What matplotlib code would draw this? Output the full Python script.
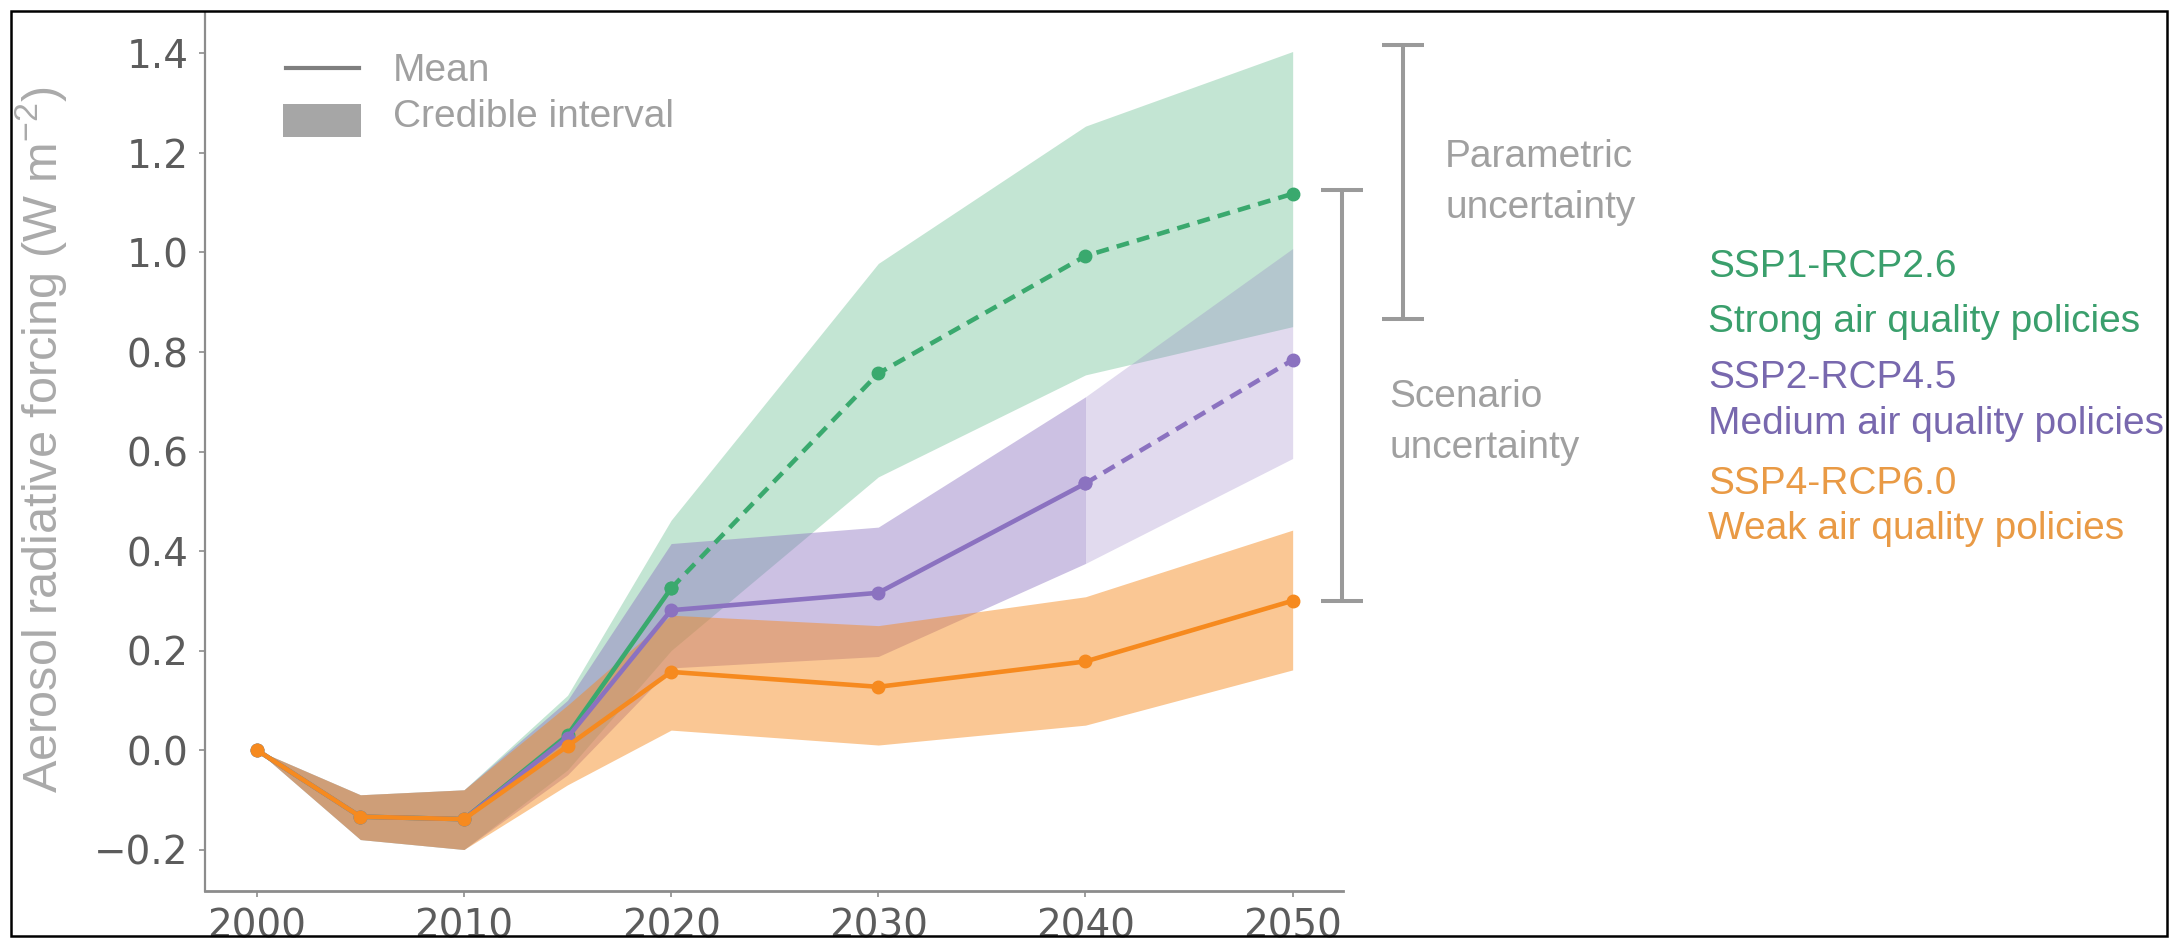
import matplotlib
matplotlib.use("Agg")
import matplotlib.pyplot as plt
from matplotlib.patches import Rectangle
from matplotlib.lines import Line2D

# --- data -----------------------------------------------------------------
years = [2000, 2005, 2010, 2015, 2020, 2030, 2040, 2050]

ssp1_mean = [0.0, -0.134, -0.139, 0.030, 0.325, 0.757, 0.993, 1.118]
ssp1_low  = [0.0, -0.180, -0.200, -0.040, 0.200, 0.549, 0.754, 0.851]
ssp1_high = [0.0, -0.090, -0.080, 0.110, 0.462, 0.978, 1.254, 1.404]

ssp2_mean = [0.0, -0.134, -0.139, 0.025, 0.281, 0.316, 0.536, 0.784]
ssp2_low  = [0.0, -0.180, -0.200, -0.050, 0.165, 0.188, 0.375, 0.586]
ssp2_high = [0.0, -0.090, -0.080, 0.100, 0.415, 0.448, 0.710, 1.008]

ssp4_mean = [0.0, -0.134, -0.139, 0.008, 0.157, 0.127, 0.178, 0.300]
ssp4_low  = [0.0, -0.180, -0.200, -0.070, 0.040, 0.010, 0.050, 0.161]
ssp4_high = [0.0, -0.090, -0.080, 0.090, 0.271, 0.250, 0.308, 0.442]

ytick_values = [-0.2, 0.0, 0.2, 0.4, 0.6, 0.8, 1.0, 1.2, 1.4]
ytick_labels = ["\u22120.2", "0.0", "0.2", "0.4", "0.6", "0.8", "1.0", "1.2", "1.4"]
xtick_values = [2000, 2010, 2020, 2030, 2040, 2050]

parametric_range = [0.866, 1.417]
scenario_range = [0.300, 1.126]

scenario_names = ["SSP1-RCP2.6", "SSP2-RCP4.5", "SSP4-RCP6.0"]
scenario_policies = ["Strong air quality policies",
                     "Medium air quality policies",
                     "Weak air quality policies"]

# --- style ----------------------------------------------------------------
plt.rcParams["mathtext.fontset"] = "custom"
plt.rcParams["mathtext.rm"] = "Liberation Sans"
plt.rcParams["mathtext.it"] = "Liberation Sans:italic"

GREEN = "#3aa96e"
PURPLE = "#8b72c0"
ORANGE = "#f68a1f"
GREEN_TXT = "#3a9f6c"
PURPLE_TXT = "#7868ae"
ORANGE_TXT = "#e99a45"
GRAY_TXT = "#a0a0a0"
SANS = ["Liberation Sans", "DejaVu Sans"]

W, H = 2172, 939
fig = plt.figure(figsize=(W / 100, H / 100), dpi=100)


def fx(px):
    return px / W


def fy(py):
    return 1 - py / H


ax = fig.add_axes([fx(205), fy(891), fx(1343) - fx(205), fy(13) - fy(891)])
ax.set_xlim(1997.5, 2052.43)
ax.set_ylim(-0.2834, 1.4814)

# credible-interval bands
ax.fill_between(years, ssp1_low, ssp1_high, color=GREEN, alpha=0.30, lw=0, zorder=1)
ax.fill_between(years[:7], ssp2_low[:7], ssp2_high[:7], color=PURPLE, alpha=0.44, lw=0, zorder=2)
ax.fill_between(years[6:], ssp2_low[6:], ssp2_high[6:], color=PURPLE, alpha=0.26, lw=0, zorder=2)
ax.fill_between(years, ssp4_low, ssp4_high, color=ORANGE, alpha=0.48, lw=0, zorder=3)

# mean lines (dashed where the projection is extended)
lw = 3.3
ms = 9
dash = (2.8, 1.8)
ax.plot(years[:5], ssp1_mean[:5], color=GREEN, lw=lw, marker="o", ms=ms, zorder=5)
ax.plot(years[4:], ssp1_mean[4:], color=GREEN, lw=lw, marker="o", ms=ms,
        dashes=dash, zorder=5)
ax.plot(years[:7], ssp2_mean[:7], color=PURPLE, lw=lw, marker="o", ms=ms, zorder=6)
ax.plot(years[6:], ssp2_mean[6:], color=PURPLE, lw=lw, marker="o", ms=ms,
        dashes=dash, zorder=6)
ax.plot(years, ssp4_mean, color=ORANGE, lw=lw, marker="o", ms=ms, zorder=7)

# axes styling
for side in ("top", "right"):
    ax.spines[side].set_visible(False)
ax.spines["left"].set_color("#8c8c8c")
ax.spines["left"].set_linewidth(1.6)
ax.spines["bottom"].set_color("#8c8c8c")
ax.spines["bottom"].set_linewidth(2.0)
ax.set_yticks(ytick_values)
ax.set_yticklabels(ytick_labels)
ax.set_xticks(xtick_values)
ax.tick_params(axis="both", colors="#8c8c8c", labelcolor="#5c5c5c",
               labelsize=28, length=4, width=1.2, pad=8)
for lab in ax.get_xticklabels() + ax.get_yticklabels():
    lab.set_family("DejaVu Sans")

fig.text(fx(41), fy(440), r"Aerosol radiative forcing (W m$^{\mathrm{-2}}$)",
         rotation=90, ha="center", va="center", fontsize=35,
         color="#aaaaaa", family=SANS)

# uncertainty brackets
br_kw = dict(color="#9a9a9a", lw=2.9, clip_on=False, solid_capstyle="butt", zorder=8)
px_per_year = (1292.7 - 256.7) / 50
cap = 21 / px_per_year
xp = 2055.34
ax.plot([xp, xp], parametric_range, **br_kw)
for yv in parametric_range:
    ax.plot([xp - cap, xp + cap], [yv, yv], **br_kw)
xs = 2052.36
ax.plot([xs, xs], scenario_range, **br_kw)
for yv in scenario_range:
    ax.plot([xs - cap, xs + cap], [yv, yv], **br_kw)

txt_kw = dict(fontsize=28, family=SANS, va="baseline", ha="left")
fig.text(fx(1445), fy(167), "Parametric", color=GRAY_TXT, **txt_kw)
fig.text(fx(1445), fy(218), "uncertainty", color=GRAY_TXT, **txt_kw)
fig.text(fx(1389), fy(407), "Scenario", color=GRAY_TXT, **txt_kw)
fig.text(fx(1389), fy(458), "uncertainty", color=GRAY_TXT, **txt_kw)

# scenario labels
label_colors = [GREEN_TXT, PURPLE_TXT, ORANGE_TXT]
name_base = [277, 388, 494]
policy_base = [332, 434, 539]
for name, pol, col, yb1, yb2 in zip(scenario_names, scenario_policies,
                                    label_colors, name_base, policy_base):
    fig.text(fx(1708), fy(yb1), name, color=col, **txt_kw)
    fig.text(fx(1708), fy(yb2), pol, color=col, **txt_kw)

# key for mean line and credible interval
fig.add_artist(Line2D([fx(286), fx(359)], [fy(68), fy(68)], color="#7f7f7f",
                      lw=3, transform=fig.transFigure))
fig.add_artist(Rectangle((fx(283), fy(137)), fx(361) - fx(283), fy(104) - fy(137),
                         color="#a6a6a6", lw=0, transform=fig.transFigure))
fig.text(fx(393), fy(81), "Mean", color=GRAY_TXT, **txt_kw)
fig.text(fx(393), fy(127), "Credible interval", color=GRAY_TXT, **txt_kw)

# outer frame
fig.add_artist(Rectangle((fx(11), fy(936)), fx(2167) - fx(11), fy(11) - fy(936),
                         fill=False, edgecolor="black", lw=1.8,
                         transform=fig.transFigure))

fig.savefig("out.png", dpi=100)
